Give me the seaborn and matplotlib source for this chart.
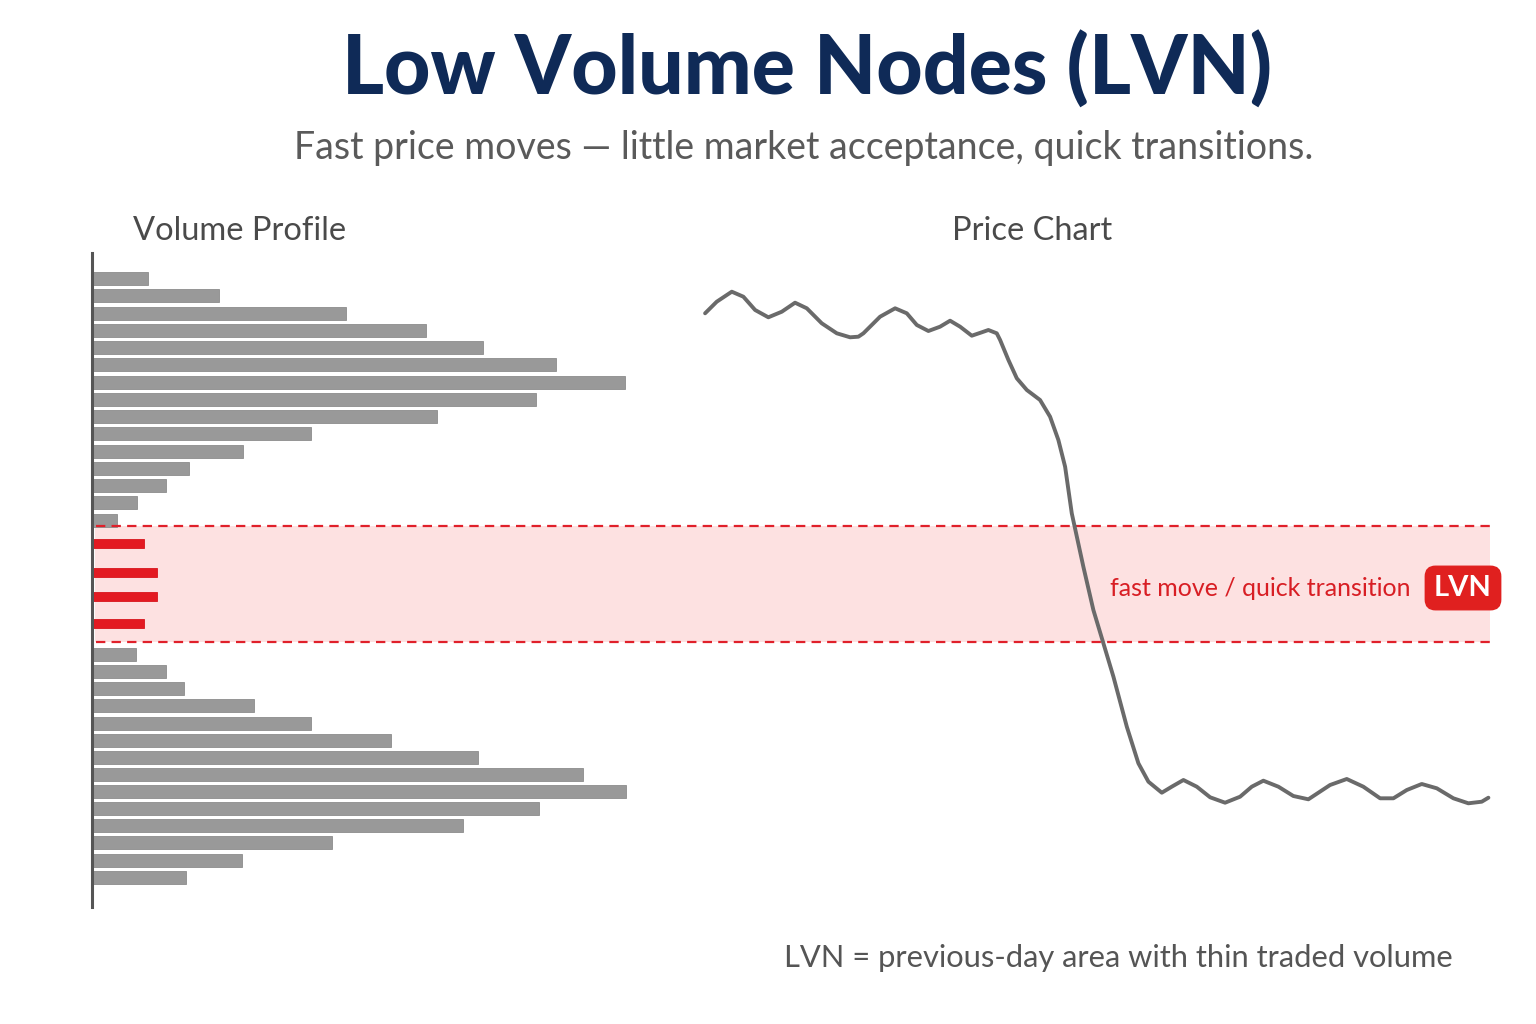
import numpy as np
import pandas as pd
import matplotlib
matplotlib.use("Agg")
import matplotlib.pyplot as plt
import seaborn as sns

# ---------------- data ----------------
upper_levels = [72.15, 70.43, 68.70, 66.98, 65.25, 63.53, 61.80, 60.08,
                58.35, 56.63, 54.90, 53.18, 51.45, 49.73, 48.00]
upper_volume = [10.4, 23.7, 47.5, 62.5, 73.2, 86.9, 99.8, 83.1,
                64.6, 41.0, 28.2, 18.1, 13.8, 8.5, 4.7]
lvn_levels = [45.7, 42.8, 40.4, 37.65]
lvn_volume = [9.8, 12.2, 12.2, 9.8]
lower_levels = [34.6, 32.9, 31.2, 29.5, 27.7, 26.0, 24.3, 22.6,
                20.9, 19.2, 17.5, 15.8, 14.0, 12.3]
lower_volume = [8.3, 13.8, 17.3, 30.3, 41.1, 56.0, 72.2, 91.9,
                100.0, 83.7, 69.5, 45.0, 28.0, 17.6]
lvn_zone_low = 35.8
lvn_zone_high = 47.4

price_time = [0, 1.49, 3.41, 4.89, 6.39, 8.08, 9.80, 11.49, 12.99, 14.90,
              16.82, 18.52, 19.58, 20.22, 22.35, 24.27, 25.76, 27.04, 28.52,
              30.01, 31.29, 32.57, 34.06, 35.34, 36.18, 37.25, 37.68, 38.74,
              39.81, 41.09, 42.78, 44.06, 45.12, 45.98, 46.83, 48.31, 49.59,
              50.87, 52.15, 53.86, 55.34, 56.62, 58.33, 59.60, 61.09, 62.80,
              64.50, 66.41, 68.33, 69.82, 71.30, 73.22, 75.13, 77.05, 79.82,
              81.95, 84.07, 86.21, 87.91, 89.62, 91.53, 93.45, 95.57, 97.48,
              99.19, 100.04]
price_value = [68.67, 69.83, 70.83, 70.33, 69.0, 68.27, 68.83, 69.73, 69.17,
               67.67, 66.67, 66.27, 66.33, 66.67, 68.33, 69.17, 68.67, 67.5,
               66.9, 67.33, 67.93, 67.33, 66.43, 66.77, 67.0, 66.67, 66.0,
               64.0, 62.17, 61.0, 60.0, 58.33, 56.0, 53.33, 48.67, 43.33, 39.0,
               35.67, 32.33, 27.33, 23.67, 21.83, 20.73, 21.33, 22.0, 21.33,
               20.27, 19.73, 20.33, 21.33, 21.93, 21.33, 20.4, 20.07, 21.5,
               22.1, 21.33, 20.17, 20.17, 21.0, 21.6, 21.17, 20.17, 19.67,
               19.83, 20.23]

title = "Low Volume Nodes (LVN)"
subtitle = "Fast price moves \u2014 little market acceptance, quick transitions."
left_label = "Volume Profile"
right_label = "Price Chart"
zone_label = "fast move / quick transition"
badge_label = "LVN"
footnote = "LVN = previous-day area with thin traded volume"

# ---------------- style ----------------
sns.set_theme(style="white")
plt.rcParams["font.family"] = ["Lato", "DejaVu Sans"]

W, H = 1536, 1024
fig = plt.figure(figsize=(W / 100, H / 100), dpi=100)
fig.patch.set_facecolor("white")

ax_l, ax_r, ax_t, ax_b = 92, 1492, 253, 907
ax = fig.add_axes([ax_l / W, 1 - ax_b / H, (ax_r - ax_l) / W, (ax_b - ax_t) / H])
ax.set_facecolor("none")

gray_df = pd.DataFrame({"level": upper_levels + lower_levels,
                        "volume": upper_volume + lower_volume})
lvn_df = pd.DataFrame({"level": lvn_levels, "volume": lvn_volume})

gray_h = 1.3
red_h = 0.9
gray_w = gray_h / np.min(np.diff(np.unique(gray_df["level"])))
red_w = red_h / np.min(np.diff(np.unique(lvn_df["level"])))

# band + dashed borders
ax.axhspan(lvn_zone_low, lvn_zone_high, xmin=0.002, xmax=0.9986,
           color="#fde1e1", zorder=0, lw=0)
for yv in (lvn_zone_low, lvn_zone_high):
    ax.axhline(yv, xmin=0.003, xmax=0.9986, color="#e0202a", lw=1.6,
               ls=(0, (4.2, 2.8)), zorder=3)

sns.barplot(data=gray_df, x="volume", y="level", orient="y", native_scale=True,
            width=gray_w, color="#999999", saturation=1, errorbar=None,
            edgecolor="#8c8c8c", linewidth=0.6, ax=ax, zorder=2)
sns.barplot(data=lvn_df, x="volume", y="level", orient="y", native_scale=True,
            width=red_w, color="#e31a22", saturation=1, errorbar=None,
            edgecolor="#d8141c", linewidth=0.6, ax=ax, zorder=2)

ax.set_xlim(0, 1400 / 5.34)
ax.set_ylim(9.3, 74.7)
ax.set_xlabel("")
ax.set_ylabel("")
ax.set_xticks([])
ax.set_yticks([])
for s in ("top", "right", "bottom"):
    ax.spines[s].set_visible(False)
ax.spines["left"].set_color("#555555")
ax.spines["left"].set_linewidth(2.2)

# price chart on a twin x axis
ax2 = ax.twiny()
ax2.set_facecolor("none")
price_df = pd.DataFrame({"t": price_time, "p": price_value})
sns.lineplot(data=price_df, x="t", y="p", sort=False, color="#6a6a6a",
             linewidth=2.8, ax=ax2, zorder=4)
for ln in ax2.lines:
    ln.set_solid_capstyle("round")
    ln.set_solid_joinstyle("round")
    ln.set_antialiased(True)
ax2.set_xlim(-78.3, 100.5)
ax2.set_ylim(9.3, 74.7)
ax2.set_xticks([])
ax2.set_xlabel("")
ax2.set_ylabel("")
for s in ax2.spines.values():
    s.set_visible(False)

# ---------------- text ----------------
def fx(x):
    return x / W

def fy(y):
    return 1 - y / H

fig.text(fx(807), fy(70), title, ha="center", va="center", fontsize=58,
         fontweight="black", color="#0f2a57")
fig.text(fx(804), fy(148), subtitle, ha="center", va="center", fontsize=27,
         color="#5a5a5a")
fig.text(fx(133), fy(231), left_label, ha="left", va="center", fontsize=23.5,
         color="#4a4a4a")
fig.text(fx(1032), fy(231), right_label, ha="center", va="center", fontsize=23.5,
         color="#4a4a4a")
fig.text(fx(1411), fy(588), zone_label, ha="right", va="center", fontsize=18,
         color="#d81e24")
fig.text(fx(1463), fy(588), badge_label, ha="center", va="center", fontsize=21,
         fontweight="bold", color="white",
         bbox=dict(boxstyle="round,pad=0.3,rounding_size=0.35",
                   fc="#e0201f", ec="#e0201f"))
fig.text(fx(1453), fy(958), footnote, ha="right", va="center", fontsize=22.2,
         color="#555555")

fig.savefig("out.png", dpi=100, facecolor="white")
